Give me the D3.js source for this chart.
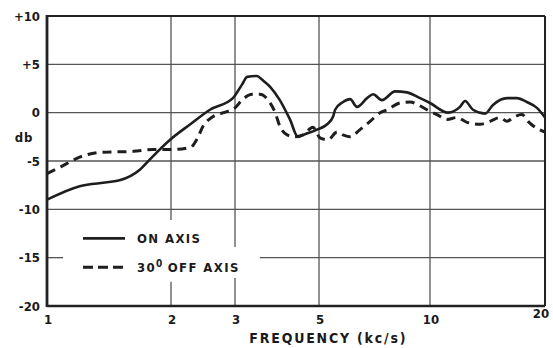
<!DOCTYPE html>
<html>
<head>
<meta charset="utf-8">
<script src="https://cdn.jsdelivr.net/npm/d3@7"></script>
<style>
  html, body { margin: 0; padding: 0; background: #fff; }
  svg text { font-family: "DejaVu Sans Condensed", "DejaVu Sans", sans-serif; fill: #1a1a1a; font-weight: bold; }
</style>
</head>
<body>
<div id="chart"></div>
<script>
// frequency (kc/s) and response (db)
const onAxisFreq = [1.00, 1.20, 1.40, 1.50, 1.68, 1.78, 1.99, 2.26, 2.56, 2.96, 3.13, 3.23, 3.43, 3.54, 3.71, 3.94, 4.19, 4.40, 4.54, 4.94, 5.26, 5.46, 5.53, 5.81, 6.07, 6.34, 6.75, 7.01, 7.41, 8.04, 8.66, 9.40, 10.0, 11.15, 11.98, 12.35, 12.96, 13.93, 14.62, 15.91, 16.89, 17.94, 19.05, 20.0];
const onAxisDb = [-9.0, -7.6, -7.2, -7.0, -5.9, -4.8, -2.8, -1.2, 0.3, 1.5, 2.9, 3.7, 3.8, 3.4, 2.7, 1.3, -0.7, -2.5, -2.3, -1.75, -1.2, -0.4, 0.3, 1.1, 1.4, 0.6, 1.5, 1.9, 1.3, 2.2, 2.1, 1.5, 1.0, 0.0, 0.6, 1.2, 0.3, -0.1, 0.8, 1.5, 1.5, 1.1, 0.5, -0.5];

const offAxisFreq = [1.00, 1.08, 1.20, 1.35, 1.62, 1.81, 2.03, 2.26, 2.36, 2.45, 2.61, 2.85, 3.00, 3.13, 3.33, 3.49, 3.67, 3.83, 3.94, 4.12, 4.32, 4.54, 4.82, 5.03, 5.29, 5.60, 5.81, 6.07, 6.46, 6.88, 7.32, 7.65, 8.29, 8.83, 9.28, 9.82, 10.43, 11.08, 11.77, 12.50, 13.52, 14.36, 15.25, 15.91, 16.50, 17.41, 18.05, 18.83, 20.0];
const offAxisDb = [-6.3, -5.6, -4.6, -4.1, -4.0, -3.8, -3.8, -3.6, -2.7, -1.4, -0.4, 0.1, 0.5, 1.3, 1.9, 1.9, 1.3, 0.0, -1.4, -2.3, -2.5, -2.3, -1.5, -2.6, -2.8, -2.0, -2.3, -2.5, -1.75, -0.9, 0.0, 0.3, 1.0, 1.1, 0.8, 0.3, -0.2, -0.7, -0.5, -1.0, -1.2, -0.9, -0.5, -0.9, -0.5, -0.2, -0.9, -1.5, -2.0];

const xTicks = [1, 2, 3, 5, 10, 20];
const xTickLabels = ["1", "2", "3", "5", "10", "20"];
const yTicks = [10, 5, 0, -5, -10, -15, -20];
const yTickLabels = ["+10", "+5", "0", "-5", "-10", "-15", "-20"];

const seriesNames = ["ON AXIS", "30", "OFF AXIS"];

const width = 553;
const height = 348;
const margin = { top: 16, right: 8, bottom: 42, left: 47 };

const svg = d3.select("#chart")
  .append("svg")
  .attr("width", width)
  .attr("height", height);

// hand-ruled log paper: decades are not quite even, so map each ruled line
const x = d3.scaleLog()
  .domain(xTicks)
  .range([margin.left, 171, 235, 319, 430, width - margin.right]);

const y = d3.scaleLinear()
  .domain([-20, 10])
  .range([height - margin.bottom, margin.top]);

const gridColor = "#555";

// vertical grid, broken where the legend sits
const vGrid = [
  { f: 2, segs: [[10, -11.1], [-17.5, -20]] },
  { f: 3, segs: [[10, -13.9], [-17.1, -20]] },
  { f: 5, segs: [[10, -20]] },
  { f: 10, segs: [[10, -20]] },
];
vGrid.forEach((g) => {
  g.segs.forEach((s) => {
    svg.append("line")
      .attr("x1", x(g.f)).attr("x2", x(g.f))
      .attr("y1", y(s[0])).attr("y2", y(s[1]))
      .attr("stroke", gridColor).attr("stroke-width", 1.3);
  });
});

// horizontal grid
const hGrid = [
  { v: 5, segs: [[1, 20]] },
  { v: 0, segs: [[1, 20]] },
  { v: -5, segs: [[1, 20]] },
  { v: -10, segs: [[1, 20]] },
  { v: -15, segs: [[1, 1.094], [3.49, 20]] },
];
hGrid.forEach((g) => {
  g.segs.forEach((s) => {
    svg.append("line")
      .attr("x1", x(s[0])).attr("x2", x(s[1]))
      .attr("y1", y(g.v)).attr("y2", y(g.v))
      .attr("stroke", gridColor).attr("stroke-width", 1.3);
  });
});

// frame
svg.append("line").attr("x1", x(1)).attr("x2", x(20)).attr("y1", y(10)).attr("y2", y(10))
  .attr("stroke", "#222").attr("stroke-width", 2);
svg.append("line").attr("x1", x(20)).attr("x2", x(20)).attr("y1", y(10)).attr("y2", y(-20))
  .attr("stroke", "#222").attr("stroke-width", 2);
svg.append("line").attr("x1", x(1)).attr("x2", x(20)).attr("y1", y(-20)).attr("y2", y(-20))
  .attr("stroke", "#222").attr("stroke-width", 2.6);
svg.append("line").attr("x1", x(1)).attr("x2", x(1)).attr("y1", y(10) - 1).attr("y2", y(-20) + 1)
  .attr("stroke", "#222").attr("stroke-width", 2.8);

// tick labels
svg.selectAll(".ylab")
  .data(yTicks)
  .enter()
  .append("text")
  .attr("class", "ylab")
  .attr("x", margin.left - 7)
  .attr("y", (d) => y(d))
  .attr("dy", "0.36em")
  .attr("text-anchor", "end")
  .attr("font-size", 13)
  .text((d, i) => yTickLabels[i]);

svg.selectAll(".xlab")
  .data(xTicks)
  .enter()
  .append("text")
  .attr("class", "xlab")
  .attr("x", (d) => x(d) + (d === 20 ? -4 : 1))
  .attr("y", (d) => y(-20) + (d === 20 ? 12 : 18))
  .attr("text-anchor", "middle")
  .attr("font-size", 13)
  .text((d, i) => xTickLabels[i]);

svg.append("text")
  .attr("x", 24)
  .attr("y", y(-2.6))
  .attr("dy", "0.36em")
  .attr("text-anchor", "middle")
  .attr("font-size", 13)
  .attr("letter-spacing", 1)
  .text("db");

svg.append("text")
  .attr("x", x(5.3))
  .attr("y", height - 5)
  .attr("text-anchor", "middle")
  .attr("font-size", 14)
  .attr("letter-spacing", 1.8)
  .text("FREQUENCY (kc/s)");

// curves
const line = d3.line()
  .x((d) => x(d[0]))
  .y((d) => y(d[1]))
  .curve(d3.curveMonotoneX);

svg.append("path")
  .datum(onAxisFreq.map((f, i) => [f, onAxisDb[i]]))
  .attr("fill", "none")
  .attr("stroke", "#1e1e1e")
  .attr("stroke-width", 2.6)
  .attr("stroke-linejoin", "round")
  .attr("d", line);

svg.append("path")
  .datum(offAxisFreq.map((f, i) => [f, offAxisDb[i]]))
  .attr("fill", "none")
  .attr("stroke", "#1e1e1e")
  .attr("stroke-width", 3)
  .attr("stroke-dasharray", "9,6")
  .attr("d", line);

// legend
const lg = svg.append("g");
lg.append("line")
  .attr("x1", 83).attr("x2", 125).attr("y1", y(-13)).attr("y2", y(-13))
  .attr("stroke", "#1e1e1e").attr("stroke-width", 2.6);
lg.append("text")
  .attr("x", 137).attr("y", y(-13)).attr("dy", "0.36em")
  .attr("font-size", 13).attr("letter-spacing", 1.4)
  .text(seriesNames[0]);

lg.append("line")
  .attr("x1", 83).attr("x2", 125).attr("y1", y(-16)).attr("y2", y(-16))
  .attr("stroke", "#1e1e1e").attr("stroke-width", 3).attr("stroke-dasharray", "10,5");
const t2 = lg.append("text")
  .attr("x", 137).attr("y", y(-16)).attr("dy", "0.36em")
  .attr("font-size", 13).attr("letter-spacing", 1.4);
t2.append("tspan").text(seriesNames[1]);
t2.append("tspan").attr("dy", "-5").attr("font-size", 10).text("0");
t2.append("tspan").attr("dy", "5").attr("dx", 4).text(seriesNames[2]);
</script>
</body>
</html>
